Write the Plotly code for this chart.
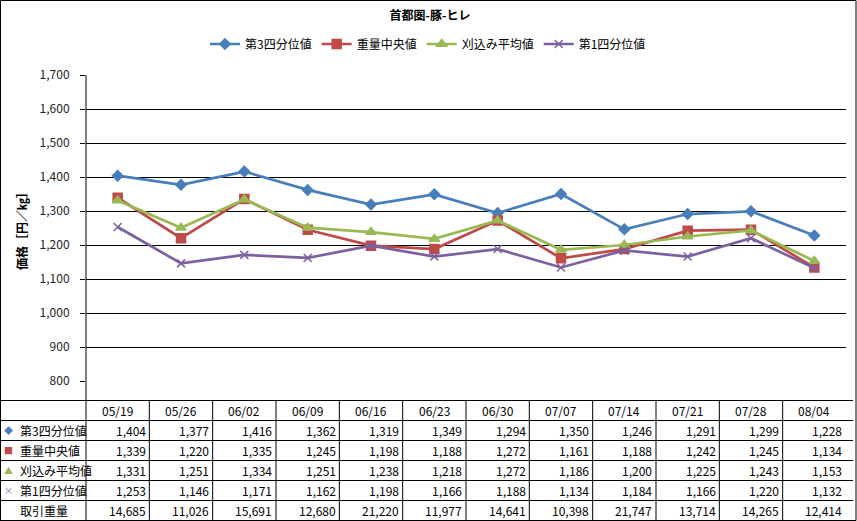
import plotly.graph_objects as go

dates = ['05/19', '05/26', '06/02', '06/09', '06/16', '06/23',
         '06/30', '07/07', '07/14', '07/21', '07/28', '08/04']
q3 = [1404, 1377, 1416, 1362, 1319, 1349, 1294, 1350, 1246, 1291, 1299, 1228]
median = [1339, 1220, 1335, 1245, 1198, 1188, 1272, 1161, 1188, 1242, 1245, 1134]
trimmed_mean = [1331, 1251, 1334, 1251, 1238, 1218, 1272, 1186, 1200, 1225, 1243, 1153]
q1 = [1253, 1146, 1171, 1162, 1198, 1166, 1188, 1134, 1184, 1166, 1220, 1132]
volume = [14685, 11026, 15691, 12680, 21220, 11977, 14641, 10398, 21747, 13714, 14265, 12414]
y_ticks = list(range(800, 1701, 100))

W, H = 857, 521
L, R, T, B = 86, 11, 75, 140
PW, PH = W - L - R, H - T - B
FONT = 'Noto Sans CJK JP, sans-serif'


def py(p):   # pixel row -> paper y
    return (H - B - p) / PH


def px(p):   # pixel column -> paper x
    return (p - L) / PW


series = [
    ('第3四分位値', q3, '#4A7EBB', 'diamond', 8, '◆'),
    ('重量中央値', median, '#BE4B48', 'square', 9, '■'),
    ('刈込み平均値', trimmed_mean, '#98B954', 'triangle-up', 9, '▲'),
    ('第1四分位値', q1, '#7D60A0', 'x-thin', 8, '×'),
]

fig = go.Figure()
for name, vals, color, sym, size, _ in series:
    fig.add_trace(go.Scatter(
        x=dates, y=vals, name=name, mode='lines+markers',
        line=dict(color=color, width=2.7),
        marker=dict(symbol=sym, size=size, color=color,
                    line=dict(color=color, width=1.5)),
    ))

# data table under the plot
rows = [(s[0], s[1], s[2], s[5]) for s in series] + [('取引重量', volume, None, '')]
row_top = 400.5
row_h = 20
shapes = []
annotations = []
for k, d in enumerate(dates):
    annotations.append(dict(xref='x', yref='paper', x=d, y=py(row_top + row_h / 2),
                            text=d, showarrow=False, xanchor='center', yanchor='middle',
                            font=dict(size=12)))
for r, (label, vals, color, mark) in enumerate(rows):
    yc = py(row_top + row_h * (r + 1.5))
    if mark:
        annotations.append(dict(xref='paper', yref='paper', x=px(8.5), y=yc, text=mark,
                                showarrow=False, xanchor='center', yanchor='middle',
                                font=dict(size=9, color=color)))
    annotations.append(dict(xref='paper', yref='paper', x=px(18), y=yc, text=label,
                            xanchor='left', yanchor='middle', showarrow=False,
                            font=dict(size=12)))
    for d, v in zip(dates, vals):
        annotations.append(dict(xref='x', yref='paper', x=d, y=yc, text=f'{v:,}',
                                xanchor='right', yanchor='middle', xshift=30,
                                showarrow=False, font=dict(size=12)))

# table grid
for r in range(7):
    y = py(row_top + row_h * r)
    shapes.append(dict(type='line', xref='paper', yref='paper', x0=px(0), x1=px(853),
                       y0=y, y1=y, line=dict(color='black', width=1)))
for i in range(len(dates) - 1):
    shapes.append(dict(type='line', xref='x', yref='paper', x0=i + 0.5, x1=i + 0.5,
                       y0=py(row_top), y1=py(row_top + row_h * 6),
                       line=dict(color='black', width=1)))
# value axis line, running down into the table
shapes.append(dict(type='line', xref='paper', yref='paper', x0=0, x1=0,
                   y0=1, y1=py(row_top + row_h * 6), line=dict(color='black', width=1)))
# outer frame
shapes.append(dict(type='rect', xref='paper', yref='paper', x0=px(0.5), x1=px(W - 1),
                   y0=py(H - 0.5), y1=py(0.5), line=dict(color='black', width=1)))

annotations.append(dict(xref='paper', yref='paper', x=px(21), y=py(228),
                        text='<b>価格［円／㎏］</b>', textangle=-90, showarrow=False,
                        xanchor='center', yanchor='middle', font=dict(size=12)))

fig.update_layout(
    width=W, height=H,
    margin=dict(l=L, r=R, t=T, b=B),
    paper_bgcolor='white', plot_bgcolor='white',
    font=dict(family=FONT, size=11, color='black'),
    title=dict(text='<b>首都圏-豚-ヒレ</b>', xref='container', x=430 / W,
               yref='container', y=1 - 16 / H, xanchor='center', yanchor='middle',
               font=dict(size=12)),
    legend=dict(orientation='h', xref='paper', x=px(428), xanchor='center',
                yref='paper', y=py(44), yanchor='middle', font=dict(size=12),
                itemwidth=30, tracegroupgap=0),
    showlegend=True,
    shapes=shapes,
    annotations=annotations,
)
fig.update_xaxes(type='category', range=[-0.5, len(dates) - 0.5], showticklabels=False,
                 showgrid=False, showline=False, zeroline=False)
fig.update_yaxes(range=[800, 1700], tickvals=y_ticks, tickformat=',d',
                 showgrid=True, gridcolor='black', gridwidth=1,
                 showline=False,
                 ticks='outside', ticklen=5, tickcolor='black',
                 ticklabelstandoff=8, tickfont=dict(size=12, color='#222'),
                 zeroline=False)

fig.write_html('out.html', config={'displayModeBar': False},
               post_script="document.body.style.margin='0';")
